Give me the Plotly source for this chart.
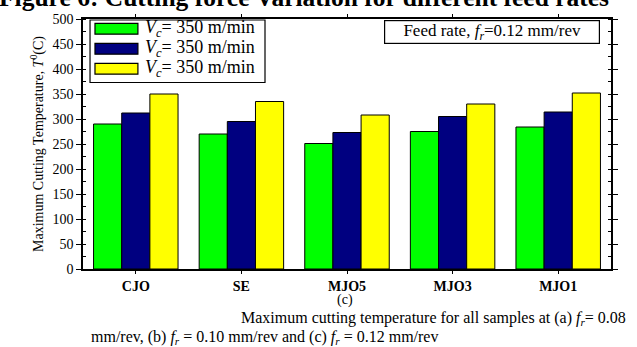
import plotly.graph_objects as go

categories = ["CJO", "SE", "MJO5", "MJO3", "MJO1"]
series_names = ["<i>V</i><sub><i>c</i></sub>= 350 m/min",
                "<i>V</i><sub><i>c</i></sub>= 350 m/min",
                "<i>V</i><sub><i>c</i></sub>= 350 m/min"]
green_vals = [290, 270, 251, 275, 284]
navy_vals = [312, 295, 273, 305, 314]
yellow_vals = [350, 335, 308, 330, 352]
colors = ["#00FF00", "#000080", "#FFFF00"]
y_ticks = [0, 50, 100, 150, 200, 250, 300, 350, 400, 450, 500]

SERIF = "Liberation Serif"

fig = go.Figure()
for name, vals, col in zip(series_names, [green_vals, navy_vals, yellow_vals], colors):
    fig.add_trace(go.Bar(x=categories, y=vals, name=name, showlegend=False,
                         marker=dict(color=col, line=dict(color="black", width=1))))

fig.update_layout(
    width=637, height=347,
    margin=dict(l=83, r=26, t=13, b=78),
    paper_bgcolor="white", plot_bgcolor="white",
    barmode="group", bargap=0.2, bargroupgap=0,
    font=dict(family=SERIF, color="black"),
    showlegend=False,
)
fig.update_xaxes(showline=True, linecolor="black", linewidth=1.5, mirror="ticks",
                 ticks="outside", ticklen=3, tickcolor="black",
                 tickfont=dict(size=14, family=SERIF), showgrid=False,
                 tickprefix="<b>", ticksuffix="</b>")
fig.update_yaxes(range=[0, 500], tickvals=y_ticks, showline=True, linecolor="black",
                 linewidth=1.5, mirror="ticks", ticks="outside", ticklen=5,
                 tickcolor="black", tickfont=dict(size=14, family=SERIF),
                 tickprefix="<b>", ticksuffix="</b>",
                 showgrid=False, zeroline=False,
                 minor=dict(dtick=25, ticks="inside", ticklen=3, tickcolor="black"),
                 title=dict(text="Maximum Cutting Temperature, <i>T</i><sup>0</sup>(C)",
                            font=dict(size=14, family=SERIF), standoff=6))

# Legend drawn as a framed key (swatches + labels)
fig.add_shape(type="rect", xref="paper", yref="paper", x0=0.0133, x1=0.3447, y0=0.746, y1=0.996,
              line=dict(color="black", width=1.2), fillcolor="white", layer="above")
row_y = [0.961, 0.881, 0.801]
for name, col, ry in zip(series_names, colors, row_y):
    fig.add_shape(type="rect", xref="paper", yref="paper", x0=0.0227, x1=0.104,
                  y0=ry - 0.0215, y1=ry + 0.0215, fillcolor=col,
                  line=dict(color="black", width=1.2), layer="above")
    fig.add_annotation(xref="paper", yref="paper", x=0.114, y=ry, xanchor="left", yanchor="middle",
                       text=name, showarrow=False, font=dict(size=18, family=SERIF))

# Feed-rate box
fig.add_annotation(xref="paper", yref="paper", x=0.979, y=0.996, xanchor="right", yanchor="top",
                   text="Feed rate, <i>f<sub>r</sub></i>=0.12 mm/rev", showarrow=False,
                   font=dict(size=17, family=SERIF), bordercolor="black", borderwidth=1.2,
                   borderpad=1, bgcolor="white", width=212, height=20)
# Cropped page title
fig.add_annotation(xref="paper", yref="paper", x=-0.163, y=1.085, xanchor="left", yanchor="middle",
                   text="<b>Figure 6: Cutting force Variation for different feed rates</b>",
                   showarrow=False, font=dict(size=25.5, family=SERIF))
# Panel label
fig.add_annotation(xref="paper", yref="paper", x=0.497, y=-0.125, xanchor="center", yanchor="middle",
                   text="(c)", showarrow=False, font=dict(size=14, family=SERIF))
# Caption
fig.add_annotation(xref="paper", yref="paper", x=1.033, y=-0.198, xanchor="right", yanchor="middle",
                   text="Maximum cutting temperature for all samples at (a) <i>f<sub>r</sub></i>= 0.08",
                   showarrow=False, font=dict(size=16, family=SERIF))
fig.add_annotation(xref="paper", yref="paper", x=0.012, y=-0.273, xanchor="left", yanchor="middle",
                   text="mm/rev, (b) <i>f<sub>r</sub></i> = 0.10 mm/rev and (c) <i>f<sub>r</sub></i> = 0.12 mm/rev",
                   showarrow=False, font=dict(size=16, family=SERIF))

fig.write_html("out.html")
